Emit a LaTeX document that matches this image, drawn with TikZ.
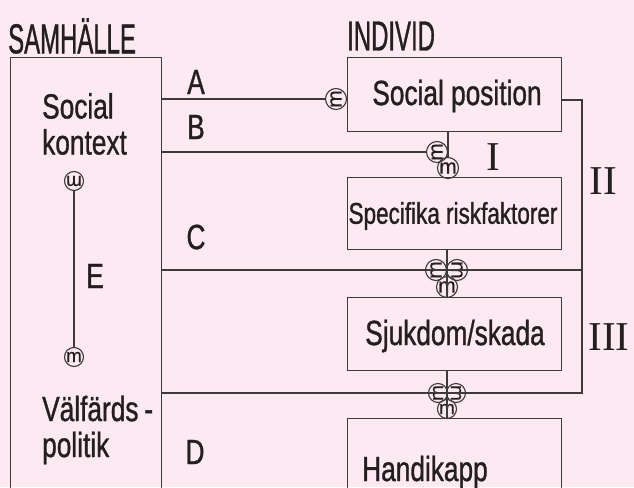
\documentclass[tikz,border=0pt]{standalone}
\usepackage{fontspec}
\newfontfamily\headf[FakeStretch=0.57,FakeBold=0.8]{Liberation Sans}
\newfontfamily\bodyf[FakeStretch=0.75,FakeBold=0.9]{Liberation Sans}
\newfontfamily\symf[FakeBold=0.4]{Liberation Sans}
\newfontfamily\romf{Liberation Serif}
\definecolor{bg}{HTML}{FCE9F1}
\definecolor{ink}{HTML}{3C3A3B}
\definecolor{txt}{HTML}{231F20}
\begin{document}
\begin{tikzpicture}[x=1pt,y=-1pt,
  box/.style={draw=ink,line width=1.3pt,rectangle,inner sep=0pt,anchor=north west},
  conn/.style={draw=ink,line width=1.2pt},
  head/.style={font=\headf\fontsize{42}{46}\selectfont,text=txt,inner sep=0pt,anchor=west},
  body/.style={font=\bodyf\fontsize{35}{36}\selectfont,text=txt,inner sep=0pt},
  lab/.style={font=\bodyf\fontsize{35}{36}\selectfont,text=txt,inner sep=0pt},
  rom/.style={font=\romf\fontsize{41}{42}\selectfont,text=txt,inner sep=0pt},
  link/.style={circle,draw=ink,line width=1.1pt,minimum size=21pt,inner sep=0pt,text=txt,font=\symf\fontsize{21}{21}\selectfont},
  slink/.style={link,minimum size=19pt,font=\symf\fontsize{19}{19}\selectfont}
]
\useasboundingbox (0,0) rectangle (634,487);
\fill[bg] (0,0) rectangle (634,487);
\clip (0,0) rectangle (634,487);

% headings
\node[head] (samh) at (8,36) {SAMHÄLLE};
\node[head] (indiv) at (347,36) {INDIVID};

% boxes
\node[box,minimum width=151pt,minimum height=460pt] (sam) at (10,57) {};
\node[box,minimum width=214pt,minimum height=74pt] (pos) at (347,57) {};
\node[box,minimum width=214pt,minimum height=72pt] (spec) at (347,177) {};
\node[box,minimum width=214pt,minimum height=73pt] (sjuk) at (347,297) {};
\node[box,minimum width=214pt,minimum height=100pt] (handi) at (347,418) {};

% box texts
\node[body] (tpos) at (457,96) {Social position};
\node[body,font=\bodyf\fontsize{30}{32}\selectfont] (tspec) at (453,216) {Specifika riskfaktorer};
\node[body] (tsjuk) at (455,336) {Sjukdom/skada};
\node[body] (thandi) at (425,472) {Handikapp};
\node[body,align=left,anchor=west] (tsoc) at (42,124) {Social\\kontext};
\node[body,align=left,anchor=west] (tval) at (42,430) {Välfärds\,-\\politik};

% link symbols
\node[link,rotate=90] (cA) at (336,99) {m};
\node[link,rotate=90] (cB1) at (437,152) {m};
\node[link] (cB2) at (448,168) {m};
\node[link,rotate=90] (cC1) at (436,270) {m};
\node[link,rotate=-90] (cC2) at (457,270) {m};
\node[link] (cC3) at (447,287) {m};
\node[slink,rotate=90] (cD1) at (438,393) {m};
\node[slink,rotate=-90] (cD2) at (456,393) {m};
\node[slink] (cD3) at (447,409) {m};
\node[slink,rotate=180] (cE1) at (74,181) {m};
\node[slink] (cE2) at (74,357) {m};

\coordinate (rt) at (582,100);
\coordinate (rb) at (582,394);

% connectors
\draw[conn] (sam.east |- cA) -- (cA);
\draw[conn] (sam.east |- cB1) -- (cB1);
\draw[conn] (pos.south -| cB2) -- (cB2);
\draw[conn] (pos.east |- rt) -- (rt) -- (rb);
\draw[conn] (sam.east |- cC1) -- (rt |- cC1);
\draw[conn] (spec.south -| cC3) -- (sjuk.north -| cC3);
\draw[conn] (sam.east |- cD1) -- (rb |- cD1) -- (rb);
\draw[conn] (sjuk.south -| cD3) -- (handi.north -| cD3);
\draw[conn] (cE1) -- (cE2);

% labels
\node[lab] (lA) at (196,82) {A};
\node[lab] (lB) at (196,127) {B};
\node[lab] (lC) at (196,237) {C};
\node[lab] (lD) at (195,452) {D};
\node[lab] (lE) at (95,276) {E};
\node[rom] (rI) at (493,157) {I};
\node[rom] (rII) at (603,181) {II};
\node[rom] (rIII) at (609,337) {III};
\end{tikzpicture}
\end{document}
